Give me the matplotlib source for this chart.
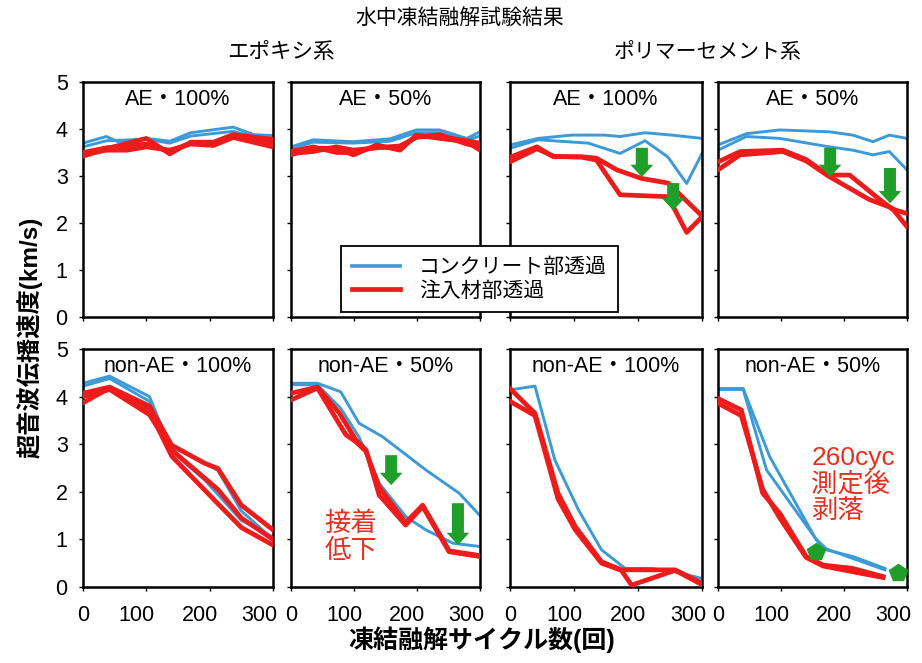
import matplotlib
matplotlib.use('Agg')
import matplotlib.pyplot as plt
from matplotlib.lines import Line2D
from matplotlib.transforms import ScaledTranslation

plt.rcParams['font.family'] = ['Liberation Sans', 'Noto Sans CJK JP']

BLUE = '#3d9ad8'
RED = '#ee1b1b'
GREEN = '#1f9e2a'
NOTE_RED = '#e8301e'

# ── data: (cycles, velocity km/s) per line ──
# epoxy, AE 100%
ep_ae100_blue = [
    ([0, 37, 55, 100, 137, 170, 237, 270, 300], [3.70, 3.84, 3.73, 3.80, 3.74, 3.92, 4.04, 3.88, 3.86]),
    ([0, 37, 100, 137, 170, 237, 270, 300], [3.62, 3.75, 3.78, 3.70, 3.85, 3.95, 3.84, 3.82]),
]
ep_ae100_red = [
    ([0, 37, 100, 137, 170, 206, 237, 300], [3.42, 3.58, 3.80, 3.47, 3.72, 3.72, 3.88, 3.78]),
    ([0, 37, 70, 100, 137, 170, 206, 237, 300], [3.45, 3.55, 3.55, 3.62, 3.55, 3.68, 3.65, 3.82, 3.62]),
    ([0, 37, 100, 137, 170, 206, 237, 300], [3.50, 3.60, 3.68, 3.52, 3.70, 3.70, 3.85, 3.70]),
]
# epoxy, AE 50%
ep_ae50_blue = [
    ([0, 35, 99, 157, 199, 236, 279, 300], [3.62, 3.77, 3.73, 3.79, 3.98, 3.98, 3.80, 3.94]),
    ([0, 35, 99, 157, 199, 236, 279, 300], [3.58, 3.72, 3.70, 3.74, 3.92, 3.92, 3.76, 3.85]),
]
ep_ae50_red = [
    ([0, 35, 72, 99, 136, 173, 199, 236, 279, 300], [3.45, 3.59, 3.59, 3.45, 3.66, 3.55, 3.87, 3.80, 3.73, 3.55]),
    ([0, 35, 72, 99, 136, 173, 199, 236, 279, 300], [3.48, 3.52, 3.62, 3.55, 3.60, 3.64, 3.82, 3.88, 3.68, 3.62]),
    ([0, 35, 72, 99, 136, 173, 199, 236, 279, 300], [3.52, 3.62, 3.50, 3.50, 3.62, 3.60, 3.84, 3.84, 3.75, 3.70]),
]
# polymer cement, AE 100%
pc_ae100_blue = [
    ([0, 44, 96, 148, 172, 211, 253, 300], [3.66, 3.80, 3.87, 3.87, 3.84, 3.92, 3.87, 3.80]),
    ([0, 44, 122, 172, 211, 247, 276, 300], [3.59, 3.77, 3.70, 3.48, 3.75, 3.40, 2.84, 3.48]),
]
pc_ae100_red = [
    ([0, 42, 68, 112, 135, 167, 205, 247, 300], [3.40, 3.62, 3.41, 3.41, 3.38, 3.13, 2.95, 2.85, 2.15]),
    ([0, 42, 68, 112, 135, 172, 247, 276, 300], [3.30, 3.58, 3.42, 3.40, 3.34, 2.60, 2.56, 1.80, 2.13]),
]
# polymer cement, AE 50%
pc_ae50_blue = [
    ([0, 45, 98, 177, 214, 246, 272, 300], [3.66, 3.90, 3.98, 3.94, 3.87, 3.73, 3.87, 3.80]),
    ([0, 45, 98, 177, 214, 246, 272, 300], [3.55, 3.84, 3.80, 3.62, 3.55, 3.45, 3.52, 3.13]),
]
pc_ae50_red = [
    ([0, 35, 103, 140, 175, 209, 252, 276, 300], [3.30, 3.52, 3.55, 3.35, 3.02, 3.02, 2.55, 2.30, 2.20]),
    ([0, 35, 103, 140, 175, 240, 276, 300], [3.13, 3.45, 3.52, 3.32, 3.00, 2.50, 2.32, 1.92]),
]
# epoxy, non-AE 100%
ep_nae100_blue = [
    ([0, 42, 105, 140, 192, 250, 300], [4.28, 4.43, 4.00, 2.85, 2.25, 1.40, 1.05]),
    ([0, 42, 105, 140, 213, 250, 300], [4.22, 4.38, 3.90, 2.95, 2.45, 1.60, 1.00]),
]
ep_nae100_red = [
    ([0, 42, 105, 140, 192, 213, 250, 300], [4.07, 4.20, 3.80, 2.98, 2.60, 2.49, 1.72, 1.20]),
    ([0, 42, 105, 140, 213, 250, 300], [3.87, 4.18, 3.70, 2.75, 1.75, 1.25, 0.88]),
    ([0, 42, 105, 140, 213, 250, 300], [4.00, 4.15, 3.62, 2.88, 2.05, 1.45, 1.00]),
]
# epoxy, non-AE 50%
ep_nae50_blue = [
    ([0, 42, 79, 108, 145, 214, 267, 300], [4.28, 4.28, 4.10, 3.44, 3.16, 2.46, 1.97, 1.50]),
    ([0, 42, 79, 108, 140, 182, 214, 257, 300], [4.25, 4.25, 3.75, 3.15, 2.18, 1.48, 1.20, 0.92, 0.85]),
]
ep_nae50_red = [
    ([0, 42, 77, 103, 119, 140, 182, 209, 251, 300], [4.07, 4.20, 3.65, 3.09, 2.88, 1.93, 1.30, 1.69, 0.74, 0.64]),
    ([0, 42, 87, 103, 119, 140, 182, 209, 251, 300], [3.93, 4.18, 3.20, 3.05, 2.85, 2.10, 1.35, 1.72, 0.76, 0.66]),
]
# polymer cement, non-AE 100%
pc_nae100_blue = [
    ([0, 39, 70, 107, 143, 180, 221, 258, 300], [4.14, 4.22, 2.67, 1.62, 0.78, 0.39, 0.39, 0.32, 0.18]),
]
pc_nae100_red = [
    ([0, 39, 75, 102, 143, 174, 258, 300], [4.17, 3.65, 1.97, 1.27, 0.53, 0.36, 0.36, 0.08]),
    ([0, 39, 75, 102, 143, 174, 190, 258, 300], [3.90, 3.60, 1.85, 1.20, 0.50, 0.35, 0.04, 0.35, 0.05]),
]
# polymer cement, non-AE 50%
pc_nae50_blue = [
    ([0, 40, 82, 156, 172, 214, 265], [4.17, 4.17, 2.74, 0.99, 0.78, 0.64, 0.39]),
    ([0, 40, 77, 156, 172, 214, 265], [4.15, 4.15, 2.46, 1.00, 0.80, 0.60, 0.36]),
]
pc_nae50_red = [
    ([0, 37, 71, 98, 140, 167, 214, 262], [3.96, 3.72, 1.97, 1.55, 0.64, 0.46, 0.39, 0.22]),
    ([0, 37, 71, 98, 140, 167, 214, 262], [3.86, 3.60, 2.05, 1.45, 0.62, 0.44, 0.32, 0.20]),
]

# green arrows (cycle, top, tip) and markers (cycle, value)
pc_ae100_arrows = [(206, 3.60, 2.98), (255, 2.85, 2.27)]
pc_ae50_arrows = [(178, 3.60, 2.98), (273, 3.17, 2.42)]
ep_nae50_arrows = [(159, 2.77, 2.14), (265, 1.76, 0.88)]
pc_nae50_marks = ([156, 286], [0.74, 0.29])

panel_titles = ['AE・100%', 'AE・50%', 'AE・100%', 'AE・50%',
                'non-AE・100%', 'non-AE・50%', 'non-AE・100%', 'non-AE・50%']
panel_blue = [ep_ae100_blue, ep_ae50_blue, pc_ae100_blue, pc_ae50_blue,
              ep_nae100_blue, ep_nae50_blue, pc_nae100_blue, pc_nae50_blue]
panel_red = [ep_ae100_red, ep_ae50_red, pc_ae100_red, pc_ae50_red,
             ep_nae100_red, ep_nae50_red, pc_nae100_red, pc_nae50_red]
xticks = [0, 100, 200, 300]
yticks = [0, 1, 2, 3, 4, 5]

# ── layout (pixels of the 922x663 canvas) ──
W, H = 922, 663
col_x = [(83, 273), (291, 480), (510, 702), (718, 907)]
row_y = [(82, 317), (349, 587)]

fig = plt.figure(figsize=(W / 100, H / 100), dpi=100)
fig.patch.set_facecolor('white')

axes = []
for i in range(8):
    r, c = divmod(i, 4)
    x0, x1 = col_x[c]
    y0, y1 = row_y[r]
    ax = fig.add_axes([x0 / W, 1 - y1 / H, (x1 - x0) / W, (y1 - y0) / H])
    for xs, ys in panel_blue[i]:
        ax.plot(xs, ys, color=BLUE, lw=2.1, zorder=2)
    for xs, ys in panel_red[i]:
        ax.plot(xs, ys, color=RED, lw=3.4, zorder=3)
    ax.set_xlim(0, 300)
    ax.set_ylim(0, 5)
    ax.set_xticks(xticks)
    ax.set_yticks(yticks)
    ax.tick_params(direction='out', length=3, width=1, labelsize=15.5)
    ax.tick_params(axis='x', pad=10)
    ax.tick_params(axis='y', pad=8)
    if c > 0:
        ax.tick_params(labelleft=False)
    if r == 0:
        ax.tick_params(labelbottom=False)
    else:
        # labels sit a bit left of their ticks, "300" ends at the frame
        labs = ax.get_xticklabels()
        for lab, dx in zip(labs[1:3], [-7, -7]):
            lab.set_transform(lab.get_transform() + ScaledTranslation(dx / 72, 0, fig.dpi_scale_trans))
        labs[3].set_horizontalalignment('right')
        labs[3].set_transform(labs[3].get_transform() + ScaledTranslation(3 / 72, 0, fig.dpi_scale_trans))
    for sp in ax.spines.values():
        sp.set_linewidth(1.8)
    ax.text(0.5, 0.925, panel_titles[i], transform=ax.transAxes,
            ha='center', va='center', fontsize=15.5)
    axes.append(ax)


def green_arrows(ax, arrows):
    for x, top, tip in arrows:
        ax.arrow(x, top, 0, tip - top, width=19, head_width=36,
                 head_length=0.26, length_includes_head=True,
                 color=GREEN, lw=0, zorder=5)


green_arrows(axes[2], pc_ae100_arrows)
green_arrows(axes[3], pc_ae50_arrows)
green_arrows(axes[5], ep_nae50_arrows)
axes[7].plot(*pc_nae50_marks, 'p', color=GREEN, ms=13, mec=GREEN, zorder=5, clip_on=False)

axes[5].text(95, 1.05, '接着\n低下', color=NOTE_RED, fontsize=19,
             ha='center', va='center', linespacing=1.15)
axes[7].text(148, 2.15, '260cyc\n測定後\n剥落', color=NOTE_RED, fontsize=19,
             ha='left', va='center', linespacing=1.1)

# ── titles / labels ──
fig.text(460 / W, 1 - 18 / H, '水中凍結融解試験結果', fontsize=15, ha='center', va='center')
fig.text(281 / W, 1 - 52 / H, 'エポキシ系', fontsize=15.5, ha='center', va='center')
fig.text(708 / W, 1 - 52 / H, 'ポリマーセメント系', fontsize=15, ha='center', va='center')
fig.text(30 / W, 1 - 337 / H, '超音波伝播速度(km/s)', fontsize=17.5, fontweight='bold',
         rotation=90, ha='center', va='center')
fig.text(482 / W, 1 - 640 / H, '凍結融解サイクル数(回)', fontsize=18, fontweight='bold',
         ha='center', va='center')

handles = [Line2D([], [], color=BLUE, lw=2.6), Line2D([], [], color=RED, lw=3.4)]
leg = fig.legend(handles, ['コンクリート部透過', '注入材部透過'],
                 loc='upper left', bbox_to_anchor=(341 / W, 1 - 246 / H),
                 fontsize=15, fancybox=False, framealpha=1, edgecolor='black',
                 handlelength=2.3, handletextpad=0.9, borderaxespad=0,
                 labelspacing=0.2, borderpad=0.55)
leg.get_frame().set_linewidth(1.3)

plt.savefig('out.png', dpi=100, facecolor='white')
plt.close()
